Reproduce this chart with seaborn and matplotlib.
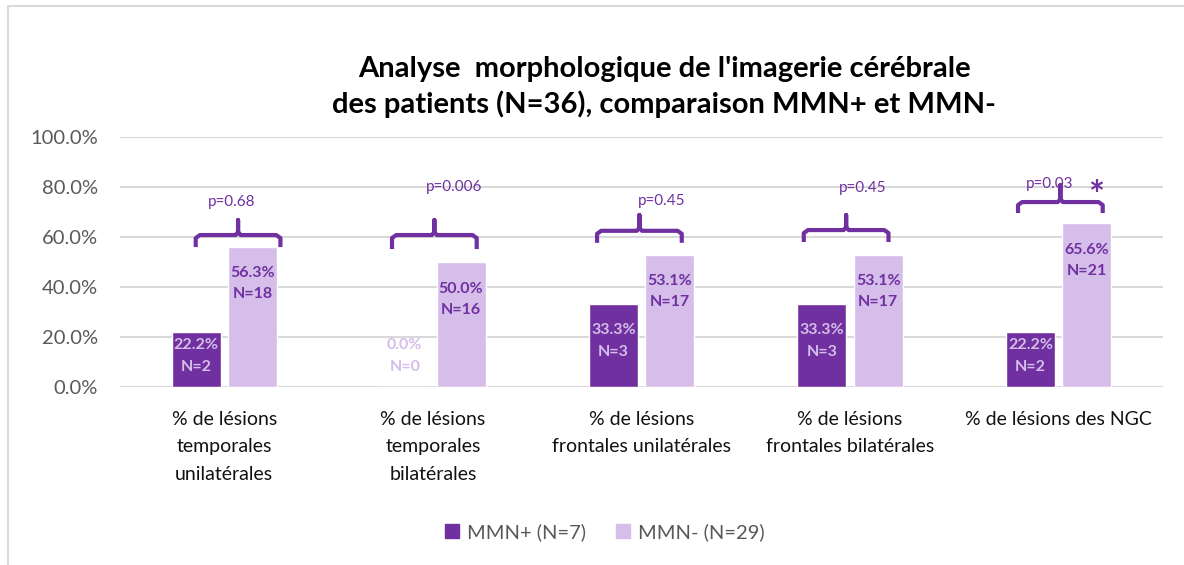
import numpy as np
import pandas as pd
import seaborn as sns
import matplotlib.pyplot as plt
from matplotlib.patches import Rectangle

# data
categories = ['% de lésions\ntemporales\nunilatérales',
              '% de lésions\ntemporales\nbilatérales',
              '% de lésions\nfrontales unilatérales',
              '% de lésions\nfrontales bilatérales',
              '% de lésions des NGC']
groups = ['MMN+ (N=7)', 'MMN- (N=29)']
mmn_pos_pct = [22.2, 0.0, 33.3, 33.3, 22.2]
mmn_pos_n = [2, 0, 3, 3, 2]
mmn_neg_pct = [56.3, 50.0, 53.1, 53.1, 65.6]
mmn_neg_n = [18, 16, 17, 17, 21]
p_values = ['p=0.68', 'p=0.006', 'p=0.45', 'p=0.45', 'p=0.03']

dark = '#7030A0'
light = '#D5BEEA'

sns.set_theme(style='white')
plt.rcParams['font.family'] = ['Lato', 'DejaVu Sans']

df = pd.DataFrame({
    'cat': categories * 2,
    'grp': [groups[0]] * 5 + [groups[1]] * 5,
    'pct': mmn_pos_pct + mmn_neg_pct,
})

fig = plt.figure(figsize=(11.84, 5.65), dpi=100)
ax = fig.add_axes([120 / 1184, 1 - 387.3 / 565, 1043 / 1184, 250 / 565])

sns.barplot(data=df, x='cat', y='pct', hue='grp', hue_order=groups,
            palette={groups[0]: dark, groups[1]: light}, saturation=1,
            width=0.54, gap=0.13, errorbar=None, ax=ax, zorder=3, legend=False)

ax.set_ylim(0, 100)
ax.set_xlim(-0.5, 4.5)
ax.set_yticks(np.arange(0, 101, 20))
ax.set_yticklabels([f'{t:.1f}%' for t in np.arange(0, 101, 20)])
ax.set_xticks(range(5))
ax.set_xticklabels(categories, linespacing=1.75)
ax.grid(axis='y', color='#D9D9D9', linewidth=1.5, zorder=0)
ax.set_axisbelow(True)
for s in ax.spines.values():
    s.set_visible(False)
ax.tick_params(axis='y', length=0, pad=16, labelsize=14.5, labelcolor='#595959')
ax.tick_params(axis='x', length=0, pad=17, labelsize=14, labelcolor='#111111')
ax.set_xlabel('')
ax.set_ylabel('')

# value labels inside bars
for cont, pcts, ns, col in [(ax.containers[0], mmn_pos_pct, mmn_pos_n, light),
                            (ax.containers[1], mmn_neg_pct, mmn_neg_n, dark)]:
    for bar, v, n in zip(cont, pcts, ns):
        xc = bar.get_x() + bar.get_width() / 2
        y = max(v - 10.4, 16.9) - 4.4
        ax.text(xc, y, f'{v:.1f}%\nN={n}', ha='center', va='center',
                fontsize=11.5, fontweight='bold', color=col, linespacing=1.65, zorder=4)

# curly brackets with p-values (offsets relative to each category)
brace_center = [0.066, 0.007, -0.01, -0.019, 0.008]
brace_y = [60.9, 60.9, 62.6, 62.9, 74.1]
brace_drop = [4.8, 5.6, 4.8, 4.8, 4.4]
brace_rise = [6.0, 6.0, 6.3, 6.0, 6.8]
ptext_x = [0.033, 0.10, 0.096, 0.06, -0.042]
ptext_y = [74.1, 80.1, 74.6, 79.7, 81.3]
half = 0.203
for i in range(5):
    c = i + brace_center[i]
    y = brace_y[i]
    xs = [c - half, c - half, c - half + 0.02, c - 0.012, c, c, c, c + 0.012, c + half - 0.02, c + half, c + half]
    ys = [y - brace_drop[i], y - 1.2, y, y, y + 1.2, y + brace_rise[i], y + 1.2, y, y, y - 1.2, y - brace_drop[i]]
    ax.plot(xs, ys, color=dark, lw=3, solid_joinstyle='round', solid_capstyle='butt', zorder=5)
    ax.text(i + ptext_x[i], ptext_y[i], p_values[i], ha='center', va='center',
            fontsize=11, color=dark, zorder=5)
ax.text(4 + 0.18, 76.0, '*', ha='center', va='center', fontsize=27,
        fontweight='bold', color=dark, zorder=5)

# title
fig.text(664 / 1184, 1 - 87 / 565,
         "Analyse  morphologique de l'imagerie cérébrale\ndes patients (N=36), comparaison MMN+ et MMN-",
         ha='center', va='center', fontsize=21, fontweight='bold', color='black', linespacing=1.35)

# legend
handles = [Rectangle((0, 0), 1, 1, color=dark), Rectangle((0, 0), 1, 1, color=light)]
fig.legend(handles, groups, loc='center', bbox_to_anchor=(605 / 1184, 1 - 532 / 565),
           ncol=2, frameon=False, fontsize=14.5, handlelength=0.7, handleheight=0.7,
           handletextpad=0.4, columnspacing=1.5, labelcolor='#595959')

# chart border
fig.patches.append(Rectangle((8 / 1184, -0.1), 1.2, 1.1 - 6.5 / 565, transform=fig.transFigure,
                             fill=False, edgecolor='#D9D9D9', linewidth=1.5))

fig.savefig('out.png', dpi=100)
